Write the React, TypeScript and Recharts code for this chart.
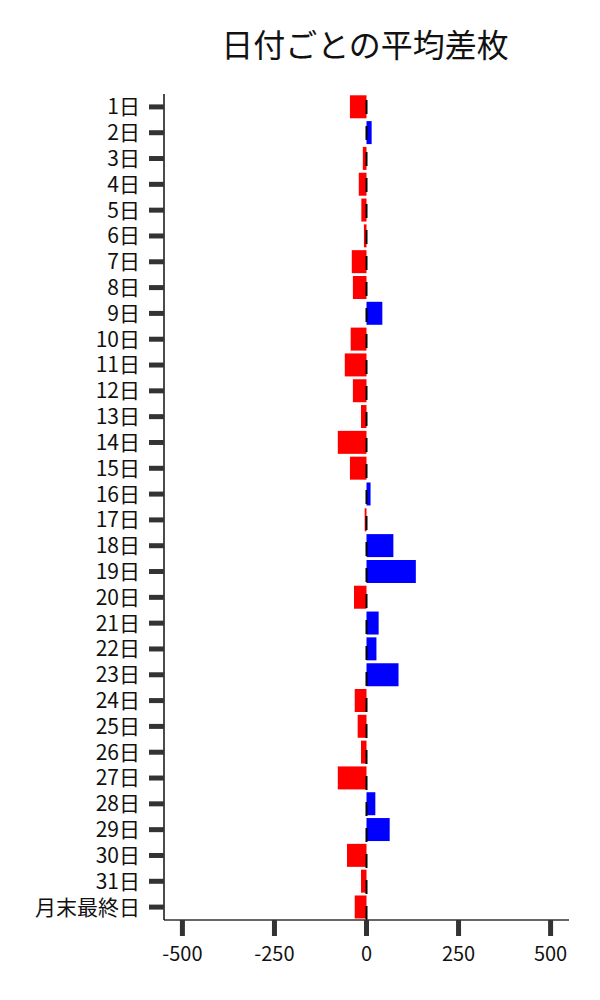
import React from "react";
import { BarChart, Bar, XAxis, YAxis, Cell, ReferenceLine } from "recharts";

const categories = [
  "1日","2日","3日","4日","5日","6日","7日","8日","9日","10日",
  "11日","12日","13日","14日","15日","16日","17日","18日","19日","20日",
  "21日","22日","23日","24日","25日","26日","27日","28日","29日","30日",
  "31日","月末最終日",
];
const values = [
  -45, 14, -10, -21, -14, -7, -40, -37, 43, -43,
  -59, -37, -15, -78, -45, 11, -5, 73, 134, -34,
  33, 27, 87, -32, -24, -15, -78, 24, 63, -53,
  -15, -32,
];
const xTicks = [-500, -250, 0, 250, 500];
const title = "日付ごとの平均差枚";

const data = categories.map((c, i) => ({ name: c, value: values[i] }));

const FONT = "'Noto Sans CJK JP', 'Noto Sans', sans-serif";

export default function App() {
  return (
    <div style={{ position: "absolute", left: 0, top: 0, width: 600, height: 1000, background: "#fff" }}>
      <div
        style={{
          position: "absolute",
          left: 165,
          top: 25,
          width: 400,
          textAlign: "center",
          fontFamily: FONT,
          fontSize: 32,
          lineHeight: "36px",
          color: "#111",
        }}
      >
        {title}
      </div>
      <BarChart
        width={600}
        height={1000}
        data={data}
        layout="vertical"
        margin={{ top: 94, right: 31, bottom: 40, left: 0 }}
        barCategoryGap="5%"
      >
        <XAxis
          type="number"
          domain={[-550, 550]}
          ticks={xTicks}
          tickSize={16}
          tickMargin={11}
          height={40}
          axisLine={{ stroke: "#333", strokeWidth: 1.5 }}
          tickLine={{ stroke: "#333", strokeWidth: 5 }}
          tick={{ fill: "#111", fontSize: 20, fontFamily: FONT }}
          interval={0}
        />
        <YAxis
          type="category"
          dataKey="name"
          width={164}
          tickSize={15}
          tickMargin={9}
          interval={0}
          axisLine={{ stroke: "#111", strokeWidth: 1.5 }}
          tickLine={{ stroke: "#333", strokeWidth: 5 }}
          tick={{ fill: "#111", fontSize: 21, fontFamily: FONT }}
        />
        <Bar dataKey="value" isAnimationActive={false}>
          {data.map((d, i) => (
            <Cell key={i} fill={d.value < 0 ? "#ff0000" : "#0000ff"} />
          ))}
        </Bar>
        <ReferenceLine x={0} stroke="#000" strokeWidth={2} strokeDasharray="14 12" />
      </BarChart>
    </div>
  );
}
